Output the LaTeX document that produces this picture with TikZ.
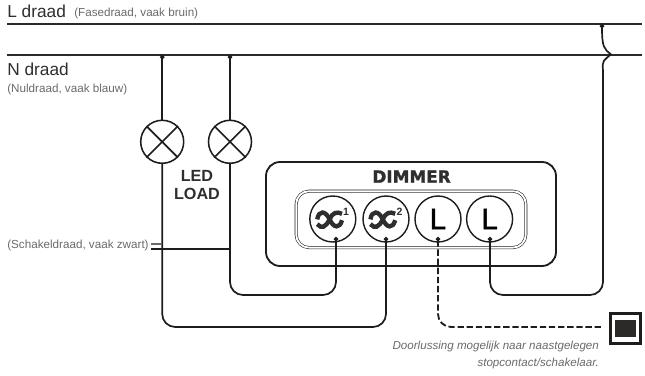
\documentclass[tikz,border=0pt]{standalone}
\usepackage{fontspec}
\setmainfont{Liberation Sans}
\newfontfamily\heavyfont{DejaVu Sans Bold}[FakeBold=1.2]
\newfontfamily\pinfont{Liberation Sans}[FakeBold=1.6]
\usepackage{tikz}
\usetikzlibrary{positioning}
\usetikzlibrary{calc}
\usetikzlibrary{arrows.meta}

\definecolor{WireBlack}{HTML}{1D1D1B}
\definecolor{BusBlack}{HTML}{2B2A29}
\definecolor{NoteGray}{HTML}{6A6A6A}
\definecolor{NameGray}{HTML}{2E2E2E}

\tikzset{
	wire/.style={line width=1.2pt, color=WireBlack, line join=round},
	pinned/.style={wire, {Circle[length=3pt]}-},
	bus/.style={line width=1.5pt, color=BusBlack},
	lamp/.style={circle, draw=WireBlack, line width=1.1pt, minimum size=1.075cm, inner sep=0pt},
	terminal/.style={circle, draw=WireBlack, line width=1.0pt, minimum size=1.15cm, inner sep=0pt, font=\pinfont\fontsize{21}{21}\selectfont, text=black},
	wirename/.style={inner sep=0pt, font=\fontsize{12.3}{12.3}\selectfont, text=NameGray},
	wirenote/.style={inner sep=0pt, font=\fontsize{8.3}{8.3}\selectfont, text=NoteGray},
	waveindex/.style={inner sep=0pt, font=\fontsize{7.5}{7.5}\selectfont\bfseries, text=NameGray},
	wave/.pic={
		\draw[line width=3.1pt, color=NameGray]
			(-0.31,0.00) .. controls (-0.27,0.24) and (-0.10,0.22) .. (0.00,0.00)
			.. controls (0.10,-0.22) and (0.25,-0.24) .. (0.31,-0.02);
		\draw[line width=3.1pt, color=NameGray]
			(-0.31,-0.12) .. controls (-0.20,-0.24) and (-0.10,-0.20) .. (0.00,0.00)
			.. controls (0.08,0.18) and (0.18,0.20) .. (0.31,0.14);
	}
}

\begin{document}
\begin{tikzpicture}
	\useasboundingbox (0.00cm,0.00cm) rectangle (16.125cm,9.375cm);

	% ---------------------
	% Mains lines
	\coordinate (LStart) at (0.175cm,8.775cm);
	\coordinate (LEnd) at (16.05cm,8.775cm);
	\coordinate (NStart) at (0.175cm,8.00cm);
	\coordinate (NEnd) at (16.05cm,8.00cm);
	\draw[bus] (LStart)--(LEnd);
	\draw[bus] (NStart)--(NEnd);

	\node[wirename, anchor=base west] (LName) at (0.175cm,8.925cm) {L draad};
	\node[wirenote, anchor=base west] (LNote) at (1.85cm,8.955cm) {(Fasedraad, vaak bruin)};
	\node[wirename, anchor=base west] (NName) at (0.175cm,7.475cm) {N draad};
	\node[wirenote, anchor=base west] (NNote) at (0.175cm,7.05cm) {(Nuldraad, vaak blauw)};
	\node[wirenote, anchor=base west] (SwitchNote) at (0.175cm,3.17cm) {(Schakeldraad, vaak zwart)};

	% ---------------------
	% Lamps
	\node[lamp] (LampOne) at (4.055cm,5.83cm) {};
	\node[lamp] (LampTwo) at (5.75cm,5.83cm) {};
	\foreach \lampname in {LampOne,LampTwo}{
		\draw[wire] (\lampname.45)--(\lampname.225);
		\draw[wire] (\lampname.135)--(\lampname.315);
	}
	\node[inner sep=0pt, align=center, font=\fontsize{11.5}{12.8}\selectfont\bfseries, text=NameGray] (Load) at (4.925cm,4.76cm) {LED\\LOAD};

	% ---------------------
	% Dimmer
	\node[draw=WireBlack, line width=1.3pt, rounded corners=0.35cm, minimum width=7.25cm, minimum height=2.60cm] (Dimmer) at (10.275cm,4.025cm) {};
	\node[inner sep=0pt, font=\heavyfont\fontsize{12}{12}\selectfont, text=NameGray] (DimmerName) at (10.29cm,4.96cm) {DIMMER};
	\node[draw=WireBlack, line width=0.4pt, double, double distance=1.3pt, rounded corners=0.32cm, minimum width=5.74cm, minimum height=1.41cm] (Plate) at (10.275cm,3.89cm) {};

	\node[terminal] (WaveOne) at (8.32cm,3.90cm) {};
	\node[terminal] (WaveTwo) at (9.65cm,3.90cm) {};
	\node[terminal] (LoopOne) at (10.95cm,3.90cm) {L};
	\node[terminal] (LoopTwo) at (12.24cm,3.90cm) {L};

	\path (WaveOne) +(-0.08cm,-0.01cm) pic {wave};
	\path (WaveTwo) +(-0.08cm,-0.01cm) pic {wave};
	\path (WaveOne) +(0.33cm,0.17cm) node[waveindex] (IndexOne) {1};
	\path (WaveTwo) +(0.34cm,0.17cm) node[waveindex] (IndexTwo) {2};

	% ---------------------
	% Pins
	\path (WaveOne) +(0.08cm,-0.45cm) coordinate (WaveOnePin);
	\path (WaveTwo) +(0.00cm,-0.45cm) coordinate (WaveTwoPin);
	\path (LoopOne) +(0.00cm,-0.45cm) coordinate (LoopOnePin);
	\path (LoopTwo) +(0.01cm,-0.45cm) coordinate (LoopTwoPin);

	% ---------------------
	% Wires
	\coordinate (LampOneTop) at (LampOne |- NStart);
	\coordinate (LampTwoTop) at (LampTwo |- NStart);
	\draw[pinned] (LampOneTop)--(LampOne.north);
	\draw[pinned] (LampTwoTop)--(LampTwo.north);

	\draw[pinned, rounded corners=0.325cm] (WaveOnePin)--(WaveOnePin |- 0,2.00)--(LampTwo |- 0,2.00)--(LampTwo.south);
	\draw[pinned, rounded corners=0.325cm] (WaveTwoPin)--(WaveTwoPin |- 0,1.20)--(LampOne |- 0,1.20)--(LampOne.south);

	% Feed wire jumps over the N line
	\coordinate (FeedTop) at (15.05cm,8.775cm);
	\draw[pinned, rounded corners=0.325cm] (LoopTwoPin)--(LoopTwoPin |- 0,2.00)--(15.075cm,2.00cm)--(15.075cm,7.60cm);
	\draw[wire, -{Circle[length=3pt]}] (15.075cm,7.60cm) .. controls (15.05cm,7.90cm) and (15.10cm,7.85cm) .. (15.27cm,8.02cm)
		.. controls (15.10cm,8.15cm) and (15.05cm,8.20cm) .. (FeedTop);

	% Looping wire
	\node[draw=WireBlack, line width=2.1pt, minimum size=0.75cm, inner sep=0pt] (Socket) at (15.64cm,1.16cm) {};
	\node[fill=BusBlack, minimum width=0.525cm, minimum height=0.425cm, inner sep=0pt] (SocketCore) at (Socket) {};
	\coordinate (LoopEnd) at (15.05cm,1.20cm);
	\draw[pinned, line width=1.3pt, dash pattern=on 4.5pt off 2pt, rounded corners=0.325cm] (LoopOnePin)--(LoopOnePin |- LoopEnd)--(LoopEnd);

	\node[wirenote, anchor=base east, font=\fontsize{8.25}{8.25}\selectfont\itshape] (LoopNoteOne) at (14.98cm,0.63cm) {Doorlussing mogelijk naar naastgelegen};
	\node[wirenote, anchor=base east, font=\fontsize{8.25}{8.25}\selectfont\itshape] (LoopNoteTwo) at (14.98cm,0.22cm) {stopcontact/schakelaar.};

	% ---------------------
	% Switch wire marks
	\coordinate (MarkUpperLeft) at (3.775cm,3.28cm);
	\coordinate (MarkUpperRight) at (4.05cm,3.28cm);
	\coordinate (MarkLowerLeft) at (3.775cm,3.15cm);
	\coordinate (MarkLowerRight) at (5.75cm,3.15cm);
	\draw[wire, color=NoteGray] (MarkUpperLeft)--(MarkUpperRight);
	\draw[wire] (MarkLowerLeft)--(MarkLowerRight);
\end{tikzpicture}
\end{document}
